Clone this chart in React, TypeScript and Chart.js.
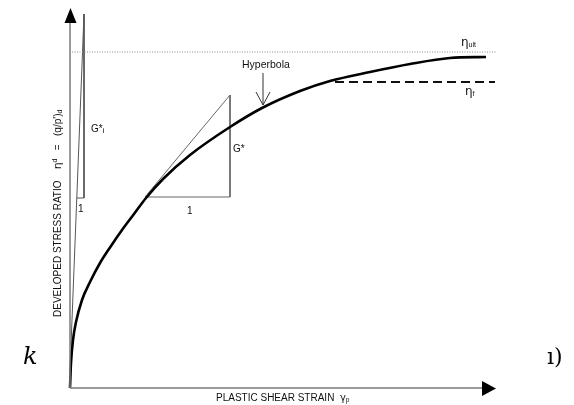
import React, { useEffect, useRef } from "react";
import { Chart, registerables } from "chart.js";

Chart.register(...registerables);

// Hyperbola (arbitrary units: x = plastic shear strain, y = developed stress ratio)
const strain = [0, 1, 3, 6, 12, 20, 30, 41, 52, 64, 76, 93, 120, 160, 192, 230, 260, 300, 340, 380, 416];
const stressRatio = [0, 25, 48, 66, 88, 106, 125, 142, 158, 174, 190, 209, 233, 261, 280, 297, 307, 316, 324, 330, 331];

// asymptote eta_ult and failure ratio eta_f
const etaUlt = 336;
const etaUltSpan = [2, 426];
const etaF = 306;
const etaFSpan = [265, 425];

// secant modulus triangle G*
const gStarX = [75, 160, 160, 75];
const gStarY = [191, 293, 191, 191];

// initial modulus triangle G*_i
const gInitX = [1, 14, 14, 6.8];
const gInitY = [43, 374, 190, 190];

const xMax = 426;
const yMax = 380;

const pts = (xs: number[], ys: number[]) => xs.map((x, i) => ({ x, y: ys[i] }));

type Run = { t: string; font: string; dy?: number };

function drawRuns(ctx: CanvasRenderingContext2D, runs: Run[], x: number, y: number) {
  let cx = x;
  for (const r of runs) {
    ctx.font = r.font;
    ctx.fillText(r.t, cx, y + (r.dy || 0));
    cx += ctx.measureText(r.t).width;
  }
}

const SANS = "'Liberation Sans', Arial, sans-serif";

const annotate = {
  id: "annotate",
  afterDatasetsDraw(chart: any) {
    const ctx: CanvasRenderingContext2D = chart.ctx;
    const xs = chart.scales.x;
    const ys = chart.scales.y;
    const x0 = xs.getPixelForValue(0);
    const y0 = ys.getPixelForValue(0);
    const xEnd = xs.getPixelForValue(xMax);
    const yTop = ys.getPixelForValue(yMax);
    ctx.save();
    // axes
    ctx.strokeStyle = "#7a7a7a";
    ctx.lineWidth = 1.5;
    ctx.beginPath();
    ctx.moveTo(x0, y0);
    ctx.lineTo(x0, yTop + 14);
    ctx.moveTo(x0, y0);
    ctx.lineTo(xEnd - 12, y0);
    ctx.stroke();
    ctx.fillStyle = "#000";
    ctx.beginPath();
    ctx.moveTo(x0 + 0.5, yTop);
    ctx.lineTo(x0 - 5.5, yTop + 15);
    ctx.lineTo(x0 + 6.5, yTop + 15);
    ctx.closePath();
    ctx.fill();
    ctx.beginPath();
    ctx.moveTo(xEnd, y0 + 0.5);
    ctx.lineTo(xEnd - 14, y0 - 7);
    ctx.lineTo(xEnd - 14, y0 + 8);
    ctx.closePath();
    ctx.fill();

    // Hyperbola arrow
    ctx.strokeStyle = "#333";
    ctx.lineWidth = 1;
    ctx.beginPath();
    ctx.moveTo(263, 73);
    ctx.lineTo(263, 105);
    ctx.moveTo(256, 92);
    ctx.lineTo(263, 105);
    ctx.lineTo(270, 92);
    ctx.stroke();

    ctx.fillStyle = "#111";
    ctx.textBaseline = "alphabetic";
    ctx.textAlign = "left";
    drawRuns(ctx, [{ t: "Hyperbola", font: `10.5px ${SANS}` }], 242, 68);
    drawRuns(ctx, [{ t: "η", font: `12px 'DejaVu Sans', sans-serif` }, { t: "ult", font: `7px ${SANS}`, dy: 1 }], 461, 46);
    drawRuns(ctx, [{ t: "η", font: `12px 'DejaVu Sans', sans-serif` }, { t: "f", font: `7px ${SANS}`, dy: 1 }], 465, 95);
    drawRuns(ctx, [{ t: "G*", font: `10px ${SANS}` }], 233, 152);
    drawRuns(ctx, [{ t: "1", font: `10px ${SANS}` }], 187, 214);
    drawRuns(ctx, [{ t: "G*", font: `10px ${SANS}` }, { t: "i", font: `8px ${SANS}`, dy: 1 }], 91, 132);
    drawRuns(ctx, [{ t: "1", font: `10px ${SANS}` }], 78, 212);

    // x-axis label
    drawRuns(
      ctx,
      [
        { t: "PLASTIC SHEAR STRAIN  ", font: `10px ${SANS}` },
        { t: "γ", font: `10px 'DejaVu Sans', sans-serif` },
        { t: "p", font: `6.5px ${SANS}`, dy: 1 },
      ],
      216,
      401
    );

    // y-axis label (rotated)
    ctx.save();
    ctx.translate(61, 317);
    ctx.rotate(-Math.PI / 2);
    drawRuns(
      ctx,
      [
        { t: "DEVELOPED STRESS RATIO    ", font: `10px ${SANS}` },
        { t: "η", font: `11px 'DejaVu Sans', sans-serif` },
        { t: "d", font: `7px ${SANS}`, dy: -4 },
        { t: "   =   ", font: `10px ${SANS}` },
        { t: "(q/p')", font: `10px ${SANS}` },
        { t: "d", font: `7px ${SANS}`, dy: 1 },
      ],
      0,
      0
    );
    ctx.restore();

    // stray marks from the source page
    ctx.fillStyle = "#000";
    drawRuns(ctx, [{ t: "k", font: `italic 24px 'DejaVu Serif', serif` }], 23, 364);
    drawRuns(ctx, [{ t: "ı)", font: `22px 'DejaVu Serif', serif` }], 547, 364);
    ctx.restore();
  },
};

export default function App() {
  const ref = useRef<HTMLCanvasElement>(null);
  useEffect(() => {
    if (!ref.current) return;
    const chart = new Chart(ref.current, {
      type: "line",
      data: {
        datasets: [
          {
            label: "Hyperbola",
            data: pts(strain, stressRatio),
            borderColor: "#000",
            borderWidth: 2.6,
            pointRadius: 0,
            cubicInterpolationMode: "monotone",
            fill: false,
            clip: false as any,
          },
          {
            label: "ηult",
            data: pts(etaUltSpan, [etaUlt, etaUlt]),
            borderColor: "#8a8a8a",
            borderWidth: 1,
            borderDash: [1, 1.5],
            pointRadius: 0,
            clip: false as any,
          },
          {
            label: "ηf",
            data: pts(etaFSpan, [etaF, etaF]),
            borderColor: "#111",
            borderWidth: 1.8,
            borderDash: [9, 5],
            pointRadius: 0,
            clip: false as any,
          },
          {
            label: "G*",
            data: pts(gStarX, gStarY),
            borderColor: "#666",
            borderWidth: 1,
            pointRadius: 0,
            clip: false as any,
          },
          {
            label: "G*i",
            data: pts(gInitX, gInitY),
            borderColor: "#555",
            borderWidth: 1,
            pointRadius: 0,
            clip: false as any,
          },
        ],
      },
      options: {
        animation: false,
        responsive: false,
        maintainAspectRatio: false,
        layout: { padding: { left: 70, right: 78, top: 8, bottom: 17 } },
        scales: {
          x: { type: "linear", min: 0, max: xMax, display: false },
          y: { type: "linear", min: 0, max: yMax, display: false },
        },
        plugins: { legend: { display: false }, tooltip: { enabled: false } },
      },
      plugins: [annotate],
    });
    return () => chart.destroy();
  }, []);
  return (
    <div style={{ position: "fixed", left: 0, top: 0, width: 574, height: 405, background: "#fff" }}>
      <canvas ref={ref} width={574} height={405} style={{ width: 574, height: 405, display: "block" }} />
    </div>
  );
}
